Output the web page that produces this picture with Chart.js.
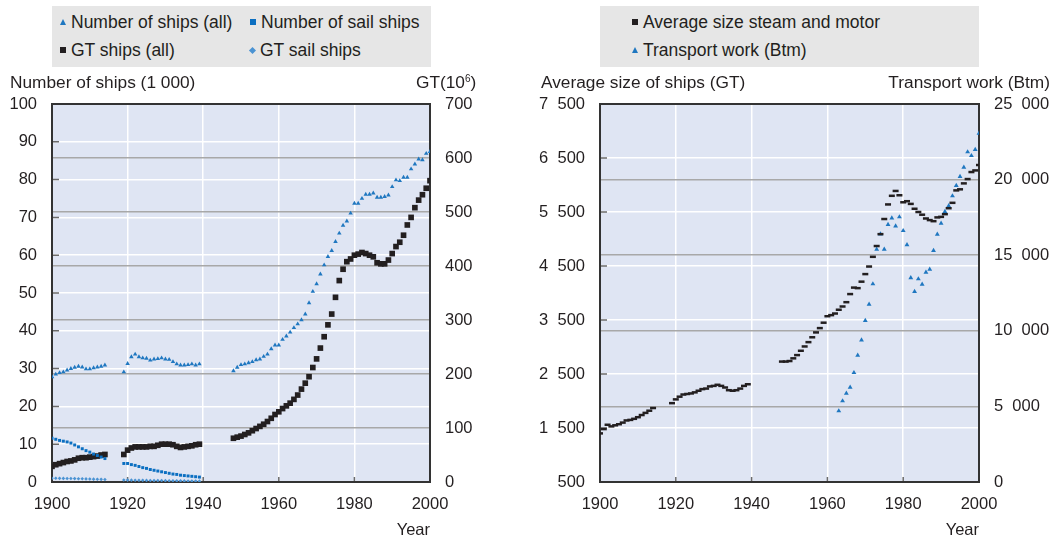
<!DOCTYPE html>
<html>
<head>
<meta charset="utf-8">
<script src="https://cdn.jsdelivr.net/npm/chart.js@4.4.1/dist/chart.umd.min.js"></script>
<style>
  body { margin: 0; background: #fff; font-family: "Liberation Sans", Arial, sans-serif; color: #231f20; }
  #page { position: relative; width: 1052px; height: 540px; overflow: hidden; }
  canvas { position: absolute; top: 0; }
  .legend { position: absolute; top: 6px; height: 61px; width: 379px; background: #e6e6e6; }
  .item { position: absolute; height: 20px; display: flex; align-items: center; font-size: 17.5px; white-space: nowrap; }
  .mk { display: inline-block; margin-right: 5px; }
  .axt { position: absolute; top: 72px; font-size: 17.3px; line-height: 20px; white-space: nowrap; }
  .axt sup { font-size: 10px; vertical-align: 6px; line-height: 0; }
</style>
</head>
<body>
<div id="page">
  <canvas id="c1" width="526" height="540" style="left:0"></canvas>
  <canvas id="c2" width="526" height="540" style="left:526px"></canvas>
  <div class="legend" id="leg1" style="left:52px"></div>
  <div class="legend" id="leg2" style="left:600px"></div>
  <div class="axt" style="left:10px">Number of ships (1 000)</div>
  <div class="axt" style="left:416px">GT(10<sup>6</sup>)</div>
  <div class="axt" style="left:541px">Average size of ships (GT)</div>
  <div class="axt" style="right:2px">Transport work (Btm)</div>
</div>
<script>
// years with data (gaps during the wars)
const years = [
  1900, 1901, 1902, 1903, 1904, 1905, 1906, 1907, 1908, 1909, 1910, 1911, 1912, 1913, 1914,
  1919, 1920, 1921, 1922, 1923, 1924, 1925, 1926, 1927, 1928, 1929, 1930, 1931, 1932, 1933, 1934, 1935, 1936, 1937, 1938, 1939,
  1948, 1949, 1950, 1951, 1952, 1953, 1954, 1955, 1956, 1957, 1958, 1959, 1960, 1961, 1962, 1963, 1964, 1965, 1966, 1967,
  1968, 1969, 1970, 1971, 1972, 1973, 1974, 1975, 1976, 1977, 1978, 1979, 1980, 1981, 1982, 1983, 1984, 1985, 1986, 1987,
  1988, 1989, 1990, 1991, 1992, 1993, 1994, 1995, 1996, 1997, 1998, 1999, 2000
];
const yearsSail = [
  1900, 1901, 1902, 1903, 1904, 1905, 1906, 1907, 1908, 1909, 1910, 1911, 1912, 1913, 1914,
  1919, 1920, 1921, 1922, 1923, 1924, 1925, 1926, 1927, 1928, 1929, 1930, 1931, 1932, 1933, 1934, 1935, 1936, 1937, 1938, 1939
];
const yearsTransport = [
  1963, 1964, 1965, 1966, 1967, 1968, 1969, 1970, 1971, 1972, 1973, 1974, 1975, 1976, 1977, 1978, 1979, 1980, 1981,
  1982, 1983, 1984, 1985, 1986, 1987, 1988, 1989, 1990, 1991, 1992, 1993, 1994, 1995, 1996, 1997, 1998, 1999, 2000
];

// number of ships, thousands
const shipsAll = [
  27.8, 28.5, 28.9, 29.1, 29.6, 30.0, 30.3, 30.6, 30.4, 29.9, 29.9, 30.2, 30.4, 30.6, 30.9,
  29.1, 31.3, 33.1, 33.8, 33.1, 32.8, 32.7, 32.2, 32.5, 32.6, 32.8, 32.5, 32.4, 31.8, 31.2, 30.9, 30.9, 31.0, 31.2, 30.9, 31.2,
  29.4, 30.3, 31.0, 31.2, 31.5, 31.8, 32.3, 32.5, 33.2, 33.8, 35.2, 36.2, 36.2, 37.7, 38.6, 39.6, 40.8, 41.8, 42.9, 44.4,
  47.4, 50.4, 52.4, 55.0, 57.4, 59.6, 61.2, 63.6, 65.8, 67.9, 69.0, 71.1, 73.7, 73.7, 75.0, 76.1, 76.1, 76.4, 75.3, 75.3,
  75.5, 75.9, 78.1, 79.9, 79.7, 80.6, 80.6, 82.8, 84.1, 85.4, 85.2, 86.9, 87.4
];
const sailShips = [
  11.6, 11.3, 11.0, 10.8, 10.6, 10.3, 9.8, 9.3, 8.8, 8.3, 7.9, 7.4, 7.0, 6.6, 6.2,
  4.9, 4.9, 4.6, 4.4, 4.1, 3.8, 3.6, 3.3, 3.1, 2.9, 2.7, 2.5, 2.3, 2.1, 2.0, 1.8, 1.7, 1.6, 1.5, 1.4, 1.3
];
// gross tonnage, millions
const gtAll = [
  29, 32, 34, 36, 38, 39, 41, 44, 45, 45, 46, 47, 48, 50, 51,
  51, 59, 63, 65, 65, 65, 65, 66, 66, 68, 70, 70, 70, 69, 66, 64, 65, 66, 67, 69, 70,
  81, 83, 85, 88, 91, 95, 99, 103, 107, 112, 118, 125, 130, 136, 141, 146, 153, 161, 172, 183,
  195, 212, 228, 248, 269, 291, 311, 342, 373, 394, 408, 413, 420, 422, 425, 423, 420, 417, 406, 404,
  404, 411, 423, 436, 444, 457, 476, 490, 508, 522, 532, 544, 558
];
const gtSail = [
  7.0, 6.9, 6.8, 6.7, 6.6, 6.5, 6.3, 6.1, 5.9, 5.7, 5.5, 5.3, 5.1, 4.9, 4.7,
  3.6, 3.5, 3.4, 3.3, 3.2, 3.1, 3.0, 2.9, 2.8, 2.7, 2.6, 2.5, 2.4, 2.3, 2.2, 2.1, 2.0, 1.9, 1.8, 1.7, 1.6
];
// average size steam and motor, GT
const avgSize = [
  1400, 1480, 1560, 1530, 1550, 1570, 1600, 1640, 1650, 1670, 1700, 1740, 1780, 1820, 1870,
  1960, 2030, 2080, 2120, 2130, 2140, 2160, 2190, 2220, 2230, 2270, 2280, 2300, 2280, 2250, 2200, 2190, 2200, 2230, 2280, 2310,
  2730, 2730, 2740, 2790, 2850, 2930, 3010, 3090, 3180, 3270, 3350, 3450, 3570, 3590, 3620, 3690, 3750, 3830, 3980, 4100,
  4090, 4210, 4350, 4490, 4670, 4870, 5090, 5370, 5640, 5800, 5890, 5810, 5680, 5700, 5650, 5560, 5500, 5450, 5380, 5350,
  5330, 5400, 5410, 5460, 5570, 5670, 5900, 5920, 6030, 6110, 6240, 6270, 6370
];
// transport work, billion tonne-miles
const transportWork = [
  4700, 5360, 5860, 6260, 7230, 8380, 9390, 10670, 11750, 13100, 15390, 16400, 15390, 17020, 17460, 16930, 17530, 16620, 15680,
  13510, 12590, 13430, 13070, 13870, 14060, 15300, 16380, 17110, 17880, 18260, 18920, 19600, 20200, 20810, 21830, 21580, 21980, 23060
];

const BLUE = '#1f77c0';
const INK = '#231f20';
const tickFont = { family: '"Liberation Sans", Arial, sans-serif', size: 16.5 };

function pts(xs, ys) {
  return xs.map((x, i) => ({ x: x, y: ys[i] }));
}
// thousands separated by a figure space
function spaced(v) {
  return String(v).replace(/\B(?=(\d{3})+(?!\d))/g, '\u2007');
}

// plot background, inward ticks and the box round the plot
const frame = {
  id: 'frame',
  beforeDraw(chart) {
    const a = chart.chartArea, ctx = chart.ctx;
    ctx.save();
    ctx.fillStyle = '#dfe5f3';
    ctx.fillRect(a.left, a.top, a.right - a.left, a.bottom - a.top);
    ctx.restore();
  },
  beforeDatasetsDraw(chart) {
    const a = chart.chartArea, ctx = chart.ctx;
    const y = chart.scales.y, x = chart.scales.x;
    ctx.save();
    ctx.strokeStyle = '#6b6b6b';
    ctx.lineWidth = 1.5;
    ctx.beginPath();
    y.ticks.forEach(t => {
      const py = y.getPixelForValue(t.value);
      ctx.moveTo(a.left, py);
      ctx.lineTo(a.left + 7, py);
    });
    x.ticks.forEach(t => {
      const px = x.getPixelForValue(t.value);
      ctx.moveTo(px, a.bottom);
      ctx.lineTo(px, a.bottom - 5);
    });
    ctx.stroke();
    ctx.strokeStyle = '#333';
    ctx.lineWidth = 2;
    ctx.strokeRect(a.left, a.top, a.right - a.left, a.bottom - a.top);
    ctx.restore();
  }
};

function makeScales(yMin, yMax, yStep, y1Max, y1Step, leftW, rightW) {
  return {
    x: {
      type: 'linear', min: 1900, max: 2000,
      ticks: { stepSize: 20, padding: 13, color: INK, font: tickFont, callback: v => String(v) },
      grid: { color: '#ffffff', lineWidth: 1.5, drawTicks: false },
      border: { display: false },
      title: { display: true, text: 'Year', align: 'end', color: INK, padding: 0, font: { family: tickFont.family, size: 16.5 } },
      afterFit: s => { s.height = 58; }
    },
    y: {
      position: 'left', min: yMin, max: yMax,
      ticks: { stepSize: yStep, padding: 15, color: INK, font: tickFont, callback: v => spaced(v) },
      grid: { color: '#ffffff', lineWidth: 1.5, drawTicks: false },
      border: { display: false },
      afterFit: s => { s.width = leftW; }
    },
    y1: {
      position: 'right', min: 0, max: y1Max,
      ticks: { stepSize: y1Step, padding: 15, color: INK, font: tickFont, callback: v => spaced(v) },
      grid: { color: '#a8a8a8', lineWidth: 1.5, drawTicks: false },
      border: { display: false },
      afterFit: s => { s.width = rightW; }
    }
  };
}

const chartLeft = new Chart(document.getElementById('c1'), {
  type: 'scatter',
  data: {
    datasets: [
      { label: 'Number of ships (all)', data: pts(years, shipsAll), yAxisID: 'y', pointStyle: 'triangle', radius: 2.6, backgroundColor: BLUE, borderWidth: 0, mk: 'tri' },
      { label: 'Number of sail ships', data: pts(yearsSail, sailShips), yAxisID: 'y', pointStyle: 'rect', radius: 2.1, backgroundColor: '#0b6fc1', borderWidth: 0, mk: 'sqblue' },
      { label: 'GT ships (all)', data: pts(years, gtAll), yAxisID: 'y1', pointStyle: 'rect', radius: 4, backgroundColor: INK, borderWidth: 0, mk: 'sq' },
      { label: 'GT sail ships', data: pts(yearsSail, gtSail), yAxisID: 'y1', pointStyle: 'rectRot', radius: 1.8, backgroundColor: '#4b93d3', borderWidth: 0, mk: 'dia' }
    ]
  },
  options: {
    responsive: false, animation: false,
    layout: { padding: { top: 104, left: 0, right: 0, bottom: 0 } },
    plugins: { legend: { display: false }, tooltip: { enabled: false } },
    scales: makeScales(0, 100, 10, 700, 100, 52, 96)
  },
  plugins: [frame]
});

const chartRight = new Chart(document.getElementById('c2'), {
  type: 'scatter',
  data: {
    datasets: [
      { label: 'Average size steam and motor', data: pts(years, avgSize), yAxisID: 'y', pointStyle: 'line', radius: 3, borderColor: INK, borderWidth: 2.5, mk: 'sq' },
      { label: 'Transport work (Btm)', data: pts(yearsTransport, transportWork), yAxisID: 'y1', pointStyle: 'triangle', radius: 2.8, backgroundColor: BLUE, borderWidth: 0, mk: 'tri' }
    ]
  },
  options: {
    responsive: false, animation: false,
    layout: { padding: { top: 104, left: 0, right: 0, bottom: 0 } },
    plugins: { legend: { display: false }, tooltip: { enabled: false } },
    scales: makeScales(500, 7500, 1000, 25000, 5000, 74, 73)
  },
  plugins: [frame]
});

// html legends built from the chart datasets
const markerCss = {
  tri: 'width:0;height:0;border-left:3.5px solid transparent;border-right:3.5px solid transparent;border-bottom:6px solid ' + BLUE + ';',
  sq: 'width:6px;height:6px;background:' + INK + ';',
  sqblue: 'width:6px;height:6px;background:#0b6fc1;',
  dia: 'width:5px;height:5px;background:#4b93d3;transform:rotate(45deg);'
};
function buildLegend(chart, el, cols) {
  chart.data.datasets.forEach((ds, i) => {
    const it = document.createElement('div');
    it.className = 'item';
    it.style.left = cols[i % cols.length] + 'px';
    it.style.top = (6 + Math.floor(i / cols.length) * 28) + 'px';
    it.innerHTML = '<span class="mk" style="' + markerCss[ds.mk] + '"></span>' + ds.label;
    el.appendChild(it);
  });
}
buildLegend(chartLeft, document.getElementById('leg1'), [8, 198]);
buildLegend(chartRight, document.getElementById('leg2'), [32]);
</script>
</body>
</html>
